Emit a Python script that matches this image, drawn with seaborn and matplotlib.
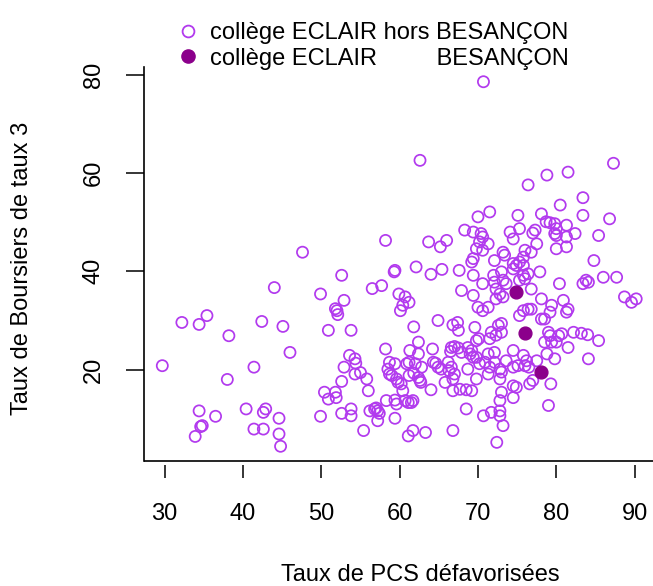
import matplotlib
matplotlib.use("Agg")
import matplotlib.pyplot as plt
from matplotlib.lines import Line2D
import seaborn as sns

# ==========================================
# DATA
# ==========================================

# colleges ECLAIR outside Besancon: (Taux de PCS defavorisees, Taux de boursiers de taux 3)
pcs_hors = [
    62.6, 70.7, 76.4, 78.8, 81.5, 87.3, 83.4,
    47.6, 44.0, 35.4, 32.2, 34.4, 42.4, 45.1, 38.2, 46.0, 29.7, 41.4, 38.0,
    34.4, 36.5, 40.4, 42.9, 42.6, 44.6, 34.8, 34.6, 33.9, 41.4, 42.6, 44.6, 44.8,
    68.3, 58.2, 63.7, 66.0, 65.2, 52.6, 59.3, 59.4, 62.1, 64.0, 65.4, 67.6,
    49.9, 56.5, 57.7, 67.9, 52.9, 59.9, 60.7, 61.2, 60.4, 60.1, 51.8, 52.0, 52.1,
    64.9, 66.8, 67.4, 67.5, 61.8,
    50.9, 53.8, 62.4, 58.2, 61.3, 64.2, 62.4,
    66.6, 67.0, 67.5, 66.5, 67.9, 68.7, 69.2,
    53.6, 54.3, 54.4, 52.9, 54.3, 55.0, 55.8, 52.6, 56.0, 50.4, 51.8, 50.9, 51.9,
    58.7, 59.4, 58.5, 58.7, 59.0, 59.6, 61.2, 60.9, 62.0, 61.8, 62.8,
    62.4, 62.6, 62.7, 61.2, 60.2, 59.8, 60.4,
    64.3, 64.6, 64.9, 65.3, 66.2, 66.6, 66.3, 67.0, 66.8, 68.7, 65.8, 64.0,
    66.8, 67.7, 68.5,
    58.3, 59.4, 59.6, 60.7, 61.1, 61.5, 61.7,
    56.2, 57.0, 57.2, 56.8, 57.4, 57.2, 53.8, 53.8, 52.6, 49.9, 59.4, 55.4,
    61.1, 61.7, 63.3, 66.8, 68.5,
    69.6, 71.7, 72.6, 73.0, 71.5, 72.3, 73.0,
    79.0, 79.2, 80.3, 80.7, 78.5, 79.4, 80.0, 81.5,
    82.2, 83.2, 84.0, 85.4, 84.1, 69.8, 70.1,
    69.4, 69.0, 69.8, 70.2, 70.9, 71.3, 72.1, 71.5, 72.1, 72.8, 73.0,
    74.5, 73.6, 74.5, 75.1, 76.0, 76.5, 75.8, 76.2, 77.5, 78.8, 79.8,
    77.0, 76.6, 79.3, 69.8, 71.3, 72.8, 69.2,
    74.5, 74.9, 74.5, 73.0, 72.8, 79.0,
    70.7, 71.7, 72.8, 72.8, 73.2, 72.4,
    80.5, 71.5, 70.0, 75.1, 78.1, 83.4, 86.8,
    78.7, 79.2, 79.8, 81.3, 80.0, 75.3, 74.1, 77.3, 77.0,
    79.8, 80.0, 81.3, 82.4, 85.4, 69.4, 70.4, 70.6, 74.5,
    70.2, 71.3, 69.8, 70.6, 77.5, 76.0, 76.8, 75.8, 81.3, 80.0,
    73.2, 73.4, 72.1, 69.4, 69.2, 84.8,
    74.5, 74.9, 75.3, 75.8, 74.5, 77.9, 73.0, 72.0, 69.4,
    75.8, 76.4, 75.3, 76.0, 70.6, 72.1, 73.2, 73.6, 72.3, 76.8, 80.4,
    83.8, 83.4, 84.1, 86.0, 87.7,
    69.4, 72.8, 72.3, 73.2, 78.1, 80.9, 88.7, 89.6, 90.2,
    70.0, 70.6, 71.3, 75.8, 76.4, 76.8, 75.3, 79.4, 79.2, 81.5, 81.3,
    78.1, 78.5,
]

boursiers_hors = [
    62.6, 78.6, 57.6, 59.6, 60.2, 62.0, 55.0,
    43.9, 36.7, 31.0, 29.6, 29.2, 29.8, 28.8, 26.9, 23.5, 20.8, 20.5, 18.0,
    11.6, 10.5, 12.0, 12.0, 11.3, 10.1, 8.6, 8.4, 6.4, 7.9, 7.9, 6.9, 4.4,
    48.4, 46.3, 46.0, 46.3, 45.0, 39.2, 39.9, 40.2, 40.9, 39.4, 40.4, 40.2,
    35.4, 36.5, 37.1, 36.1, 34.1, 35.4, 34.8, 33.7, 33.1, 32.0, 32.4, 32.0, 31.2,
    30.0, 29.1, 29.6, 28.0, 28.7,
    28.0, 28.0, 25.6, 24.2, 23.9, 24.2, 23.2,
    24.5, 24.7, 24.4, 23.7, 23.5, 24.5, 23.9,
    22.9, 22.2, 21.3, 20.5, 19.1, 19.4, 18.1, 17.6, 15.7, 15.4, 15.4, 14.0, 14.3,
    21.5, 21.2, 20.1, 19.1, 18.8, 18.1, 21.5, 21.2, 21.2, 19.3, 20.5,
    18.4, 17.8, 17.4, 18.8, 17.1, 17.4, 15.7,
    21.5, 21.3, 20.5, 20.1, 21.5, 20.5, 19.8, 19.1, 18.1, 20.1, 17.4, 15.9,
    15.7, 16.0, 15.9,
    13.7, 13.8, 13.0, 13.7, 13.3, 13.3, 13.7,
    11.6, 12.2, 11.6, 12.0, 11.1, 9.6, 12.0, 10.6, 11.1, 10.5, 10.1, 7.6,
    6.5, 7.6, 7.2, 7.6, 12.0,
    28.6, 27.6, 29.0, 29.4, 26.3, 27.0, 27.6,
    27.6, 26.9, 26.9, 27.3, 25.6, 25.6, 25.6, 24.5,
    27.6, 27.4, 27.1, 25.9, 22.2, 25.9, 26.3,
    22.5, 23.2, 22.5, 21.2, 21.5, 23.2, 23.5, 20.5, 21.5, 20.1, 19.5,
    23.9, 21.8, 20.5, 20.8, 20.8, 20.5, 22.9, 21.8, 21.8, 23.2, 22.2,
    17.8, 17.1, 17.1, 18.1, 19.1, 18.1, 15.7,
    16.7, 16.4, 14.3, 15.4, 13.7, 12.7,
    10.6, 11.3, 11.6, 10.6, 8.6, 5.2,
    53.5, 52.1, 51.1, 51.4, 51.7, 51.4, 50.7,
    50.1, 49.9, 49.7, 49.4, 48.7, 48.7, 48.0, 48.4, 47.8,
    47.7, 47.3, 47.0, 47.7, 47.3, 48.0, 47.7, 47.0, 46.6,
    46.0, 45.6, 44.6, 44.3, 45.6, 44.3, 43.9, 42.9, 45.0, 44.6,
    43.9, 43.3, 42.2, 42.6, 41.9, 42.2,
    41.6, 41.2, 41.9, 41.2, 40.5, 39.9, 39.9, 39.2, 39.2,
    39.2, 39.5, 38.2, 38.5, 37.5, 37.8, 38.2, 37.5, 36.4, 36.4, 37.5,
    38.2, 37.5, 37.8, 38.8, 38.8,
    35.1, 35.4, 34.4, 34.8, 34.4, 34.1, 34.8, 33.7, 34.4,
    32.7, 32.0, 32.7, 32.0, 32.3, 32.3, 31.0, 33.1, 31.7, 32.3, 31.7,
    30.3, 30.3,
]

# colleges ECLAIR in Besancon
pcs_besancon = [74.9, 76.0, 78.1]
boursiers_besancon = [35.8, 27.4, 19.5]

x_ticks = [30, 40, 50, 60, 70, 80, 90]
y_ticks = [20, 40, 60, 80]

legend_labels = [
    "coll\u00e8ge ECLAIR hors BESAN\u00c7ON",
    "coll\u00e8ge ECLAIR         BESAN\u00c7ON",
]

HOLLOW = "#B23AEE"
FILLED = "#8B008B"

# ==========================================
# SETTINGS
# ==========================================

sns.set_theme(style="white")
plt.rcParams["font.family"] = ["Liberation Sans", "DejaVu Sans"]
plt.rcParams["text.color"] = "black"
plt.rcParams["xtick.color"] = "black"
plt.rcParams["ytick.color"] = "black"
plt.rcParams["xtick.labelcolor"] = "black"
plt.rcParams["ytick.labelcolor"] = "black"

W, H = 653, 586
FS = 17

fig = plt.figure(figsize=(W / 100, H / 100), dpi=100)
ax = fig.add_axes([143.5 / W, 1 - 461 / H, (655 - 143.5) / W, (461 - 67) / H])

# ==========================================
# SCATTER
# ==========================================

sns.scatterplot(
    x=pcs_hors,
    y=boursiers_hors,
    ax=ax,
    s=64,
    facecolors="none",
    edgecolor=HOLLOW,
    linewidth=1.25,
    legend=False
)

sns.scatterplot(
    x=pcs_besancon,
    y=boursiers_besancon,
    ax=ax,
    s=85,
    color=FILLED,
    edgecolor=FILLED,
    linewidth=1.0,
    legend=False
)

# ==========================================
# AXES (R base graphics look)
# ==========================================

ax.set_xlim(27.3, 92.6)
ax.set_ylim(1.4, 81.6)

ax.set_xticks(x_ticks)
ax.set_yticks(y_ticks)

for side in ["top", "right"]:
    ax.spines[side].set_visible(False)

ax.spines["left"].set_color("black")
ax.spines["left"].set_linewidth(1.2)

# bottom ticks sit a little below the box line
ax.spines["bottom"].set_position(("outward", 3))
ax.spines["bottom"].set_visible(False)
ax.plot([0, 1], [0, 0], transform=ax.transAxes, color="black",
        lw=1.2, clip_on=False, solid_capstyle="butt")

ax.tick_params(axis="x", direction="out", length=9.5, width=1.1,
               labelsize=FS, pad=18, bottom=True)
ax.tick_params(axis="y", direction="out", length=13, width=1.1,
               labelsize=FS, pad=15, left=True)

for lab in ax.get_yticklabels():
    lab.set_rotation(90)
    lab.set_va("center")

ax.set_xlabel("")
ax.set_ylabel("")

fig.text(420 / W, 1 - 575 / H, "Taux de PCS d\u00e9favoris\u00e9es",
         ha="center", va="center", fontsize=FS)
fig.text(22 / W, 1 - 268 / H, "Taux de Boursiers de taux 3",
         ha="center", va="center", rotation=90, fontsize=FS)

# ==========================================
# LEGEND
# ==========================================

handles = [
    Line2D([], [], ls="", marker="o", markersize=8.5,
           markerfacecolor="none", markeredgecolor=HOLLOW, markeredgewidth=1.3),
    Line2D([], [], ls="", marker="o", markersize=9.5,
           markerfacecolor=FILLED, markeredgecolor=FILLED),
]

fig.legend(
    handles,
    legend_labels,
    loc="upper left",
    bbox_to_anchor=(182 / W, 1 - 22 / H),
    frameon=False,
    fontsize=FS,
    borderpad=0,
    borderaxespad=0,
    handlelength=0.55,
    handletextpad=0.62,
    labelspacing=0.15
)

fig.savefig("out.png", dpi=100)
